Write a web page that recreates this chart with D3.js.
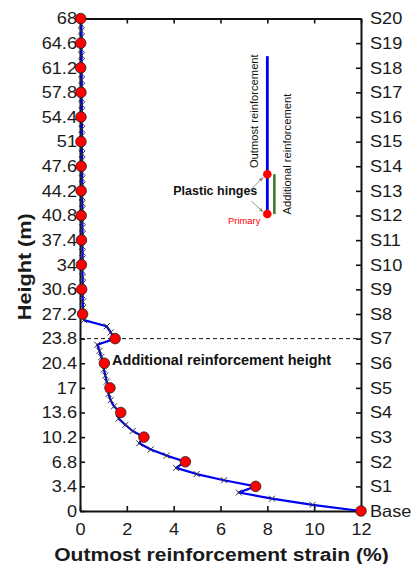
<!DOCTYPE html>
<html><head><meta charset="utf-8">
<script src="https://cdn.jsdelivr.net/npm/d3@7/dist/d3.min.js"></script>
<style>
body{margin:0;background:#fff;}
svg{display:block;font-family:"Liberation Sans",Arial,sans-serif;}
</style></head>
<body><svg id="c" width="416" height="564"></svg>
<script>
// ---- data ----
const xTicks = [0, 2, 4, 6, 8, 10, 12];
const heightTicks = [0, 3.4, 6.8, 10.2, 13.6, 17, 20.4, 23.8, 27.2, 30.6, 34, 37.4, 40.8, 44.2, 47.6, 51, 54.4, 57.8, 61.2, 64.6, 68];
const heightLabels = ["0","3.4","6.8","10.2","13.6","17","20.4","23.8","27.2","30.6","34","37.4","40.8","44.2","47.6","51","54.4","57.8","61.2","64.6","68"];
const storyLabels = ["Base","S1","S2","S3","S4","S5","S6","S7","S8","S9","S10","S11","S12","S13","S14","S15","S16","S17","S18","S19","S20"];
// strain at story levels (red circles)
const storyStrain = [12.0, 7.5, 4.5, 2.73, 1.74, 1.28, 1.04, 1.50, 0.11, 0.07, 0.06, 0.06, 0.05, 0.05, 0.05, 0.04, 0.04, 0.04, 0.03, 0.03, 0.03];
// strain along height, every 0.85 m (blue line with x markers)
const profileHeights = d3.range(81).map(i => +(i * 0.85).toFixed(2));
const profileStrain = [
  12.0, 9.93, 8.2, 6.78, 7.5,
  6.15, 4.98, 4.10, 4.5,
  3.70, 3.02, 2.53, 2.73,
  2.25, 1.94, 1.65, 1.74,
  1.45, 1.31, 1.22, 1.28,
  1.14, 1.08, 1.02, 1.04,
  0.91, 0.83, 0.74, 1.50,
  1.31, 1.14, 0.17, 0.11,
  0.13, 0.12, 0.11, 0.07,
  0.12, 0.11, 0.10, 0.06,
  0.11, 0.11, 0.10, 0.06,
  0.11, 0.10, 0.10, 0.05,
  0.10, 0.10, 0.09, 0.05,
  0.10, 0.09, 0.09, 0.05,
  0.09, 0.09, 0.08, 0.04,
  0.09, 0.08, 0.08, 0.04,
  0.08, 0.08, 0.07, 0.04,
  0.08, 0.07, 0.07, 0.03,
  0.07, 0.07, 0.06, 0.03,
  0.07, 0.06, 0.06, 0.03
];
const additionalHeight = 23.8;
// legend sketch (data coordinates)
const legendX = 8, legendGreenX = 8.3;
const legendBottom = 41, legendHinge = 46.5, legendTop = 62.8;

// ---- drawing ----
const svg = d3.select("#c");
const L = 80, R = 361, T = 18.5, B = 511;
const x = d3.scaleLinear().domain([0, 12]).range([L, R]);
const y = d3.scaleLinear().domain([0, 68]).range([B, T]);

function stretch(sel, f) {
  sel.each(function () {
    const w = this.getComputedTextLength();
    d3.select(this).attr("textLength", w * f).attr("lengthAdjust", "spacingAndGlyphs");
  });
}

// dashed line at additional reinforcement height
svg.append("line")
  .attr("x1", x(0)).attr("x2", x(12))
  .attr("y1", y(additionalHeight)).attr("y2", y(additionalHeight))
  .attr("stroke", "#111").attr("stroke-width", 1).attr("stroke-dasharray", "4,3");

// axes
const axStyle = g => {
  g.select(".domain").attr("stroke", "#111").attr("stroke-width", 2);
  g.selectAll(".tick line").attr("stroke", "#111").attr("stroke-width", 1.6);
  g.selectAll("text").attr("fill", "#1a1a1a").attr("font-size", 16.5);
};
const gB = svg.append("g").attr("transform", `translate(0,${B})`)
  .call(d3.axisBottom(x).tickValues(xTicks).tickFormat(d3.format("d")).tickSizeInner(-5).tickSizeOuter(0).tickPadding(12.5))
  .call(axStyle);
const gT = svg.append("g").attr("transform", `translate(0,${T})`)
  .call(d3.axisTop(x).tickValues(xTicks).tickFormat("").tickSizeInner(-5).tickSizeOuter(0))
  .call(axStyle);
const gL = svg.append("g").attr("transform", `translate(${L},0)`)
  .call(d3.axisLeft(y).tickValues(heightTicks).tickFormat((d, i) => heightLabels[i]).tickSizeInner(-5).tickSizeOuter(0).tickPadding(3))
  .call(axStyle);
const gR = svg.append("g").attr("transform", `translate(${R},0)`)
  .call(d3.axisRight(y).tickValues(heightTicks).tickFormat((d, i) => storyLabels[i]).tickSizeInner(-5).tickSizeOuter(0).tickPadding(9))
  .call(axStyle);
[gB, gT, gL, gR].forEach(g => g.attr("font-family", null));
stretch(svg.selectAll(".tick text"), 1.1);

// profile line
const line = d3.line().x(d => x(d[0])).y(d => y(d[1]));
const pts = profileStrain.map((s, i) => [s, profileHeights[i]]);
svg.append("path").datum(pts).attr("d", line)
  .attr("fill", "none").attr("stroke", "#0000f0").attr("stroke-width", 2.2).attr("stroke-linejoin", "round");
svg.append("g").selectAll("path").data(pts).join("path")
  .attr("transform", d => `translate(${x(d[0])},${y(d[1])})`)
  .attr("d", "M-3,-3L3,3M-3,3L3,-3")
  .attr("stroke", "#333").attr("stroke-width", 1);

// story circles
svg.append("g").selectAll("circle").data(storyStrain).join("circle")
  .attr("cx", d => x(d)).attr("cy", (d, i) => y(heightTicks[i])).attr("r", 5.3)
  .attr("fill", "#ff0000").attr("stroke", "#222").attr("stroke-width", 0.8);

// annotation
svg.append("text").attr("x", x(1.37)).attr("y", y(20.4) + 1.5)
  .attr("font-size", 14.5).attr("font-weight", "bold").attr("fill", "#111")
  .text("Additional reinforcement height");

// legend sketch
svg.append("line").attr("x1", x(legendX)).attr("x2", x(legendX))
  .attr("y1", y(legendBottom)).attr("y2", y(legendTop))
  .attr("stroke", "#0000f0").attr("stroke-width", 2.8);
svg.append("line").attr("x1", x(legendGreenX)).attr("x2", x(legendGreenX))
  .attr("y1", y(legendBottom)).attr("y2", y(legendHinge))
  .attr("stroke", "#3f7a2a").attr("stroke-width", 2.6);
svg.append("g").selectAll("circle").data([legendHinge, legendBottom]).join("circle")
  .attr("cx", x(legendX)).attr("cy", d => y(d)).attr("r", 4.3)
  .attr("fill", "#ff0000").attr("stroke", "none");
svg.append("text")
  .attr("transform", `translate(${x(legendX) - 9},${(y(legendTop) + y(legendHinge)) / 2 - 4}) rotate(-90)`)
  .attr("text-anchor", "middle").attr("font-size", 11.2).attr("fill", "#111")
  .text("Outmost reinforcement");
svg.append("text")
  .attr("transform", `translate(${x(legendGreenX) + 17},${y(legendBottom) - 60}) rotate(-90)`)
  .attr("text-anchor", "middle").attr("font-size", 11.2).attr("fill", "#111")
  .text("Additional reinforcement");
const hx = x(legendX), hy1 = y(legendHinge), hy2 = y(legendBottom);
svg.append("text").attr("x", hx - 10).attr("y", (hy1 + hy2) / 2 + 0.5)
  .attr("text-anchor", "end").attr("font-size", 12.5).attr("font-weight", "bold").attr("fill", "#111")
  .text("Plastic hinges");
svg.append("text").attr("x", hx - 7).attr("y", hy2 + 9.5)
  .attr("text-anchor", "end").attr("font-size", 9.4).attr("fill", "#ff0000")
  .text("Primary");
svg.append("defs").append("marker").attr("id", "ah").attr("viewBox", "0 0 10 10")
  .attr("refX", 10).attr("refY", 5).attr("markerWidth", 5).attr("markerHeight", 5).attr("orient", "auto")
  .append("path").attr("d", "M0,1L10,5L0,9z").attr("fill", "#888");
svg.append("line").attr("x1", hx - 16).attr("y1", (hy1 + hy2) / 2 - 5).attr("x2", hx - 4).attr("y2", hy1 + 3)
  .attr("stroke", "#888").attr("stroke-width", 0.9).attr("marker-end", "url(#ah)");
svg.append("line").attr("x1", hx - 16).attr("y1", (hy1 + hy2) / 2 + 7).attr("x2", hx - 4).attr("y2", hy2 - 2)
  .attr("stroke", "#888").attr("stroke-width", 0.9).attr("marker-end", "url(#ah)");

// axis titles
const xt = svg.append("text").attr("x", (L + R) / 2 + 1).attr("y", 561).attr("text-anchor", "middle")
  .attr("font-size", 18).attr("font-weight", "bold").attr("fill", "#1a1a1a")
  .text("Outmost reinforcement strain (%)");
stretch(xt, 1.17);
const yt = svg.append("text").attr("transform", `translate(31,${(T + B) / 2 + 2}) rotate(-90)`).attr("text-anchor", "middle")
  .attr("font-size", 18.5).attr("font-weight", "bold").attr("fill", "#1a1a1a")
  .text("Height (m)");
stretch(yt, 1.17);
</script></body></html>
